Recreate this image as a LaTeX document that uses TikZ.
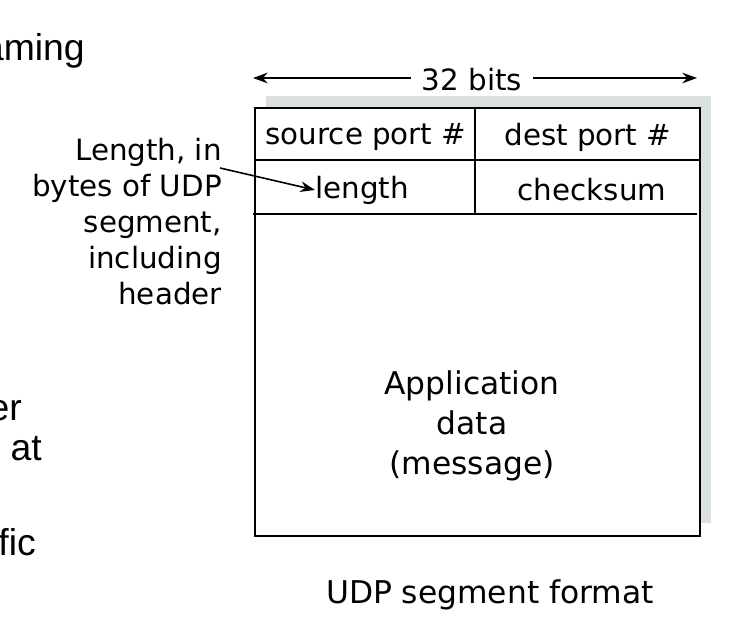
\documentclass[tikz,border=0pt]{standalone}
\usepackage{fontspec}
\setmainfont{DejaVu Sans}
\newfontfamily\slidefont{Liberation Sans}
\usetikzlibrary{arrows.meta}
\definecolor{shadowgray}{RGB}{218,224,224}
\tikzset{
  cell/.style={font=\fontsize{22}{27}\selectfont, inner sep=0pt},
  slide/.style={font=\slidefont\fontsize{28}{33}\selectfont, inner sep=0pt, anchor=base east},
  rule/.style={line width=1.6pt},
  pointer/.style={line width=1.2pt, -{Stealth[length=11pt,width=8pt]}}
}
\begin{document}
\begin{tikzpicture}[x=0.75pt,y=-0.75pt]
\useasboundingbox (0,0) rectangle (736,632);
\clip (0,0) rectangle (736,632);
% slide text cut off at the left
\node[slide] (s1) at (85,60) {aming};
\node[slide] (s2) at (22,420) {er};
\node[slide] (s3) at (42,460) {at};
\node[slide] (s4) at (36,555) {fic};
% width arrow
\node[cell] (bits) at (472,80) {32 bits};
\coordinate (wl) at (253,78);
\coordinate (wr) at (697,78);
\draw[pointer] (bits.west |- wl) ++(-8pt,0) -- (wl);
\draw[pointer] (bits.east |- wr) ++(8pt,0) -- (wr);
% segment box
\fill[shadowgray] (266,96) rectangle (711,523);
\draw[rule,fill=white] (255,108) rectangle (700,536);
\draw[rule] (255,160) -- (700,160);
\draw[rule] (253,214) -- (697,214);
\draw[rule] (475,108) -- (475,214);
\node[cell] (src) at (366,137) {source port \#};
\node[cell] (dst) at (588,137) {dest port \#};
\node[cell] (len) at (362,190) {length};
\node[cell] (chk) at (592,190) {checksum};
\node[cell, align=center, font=\fontsize{23.5}{30}\selectfont] (data) at (472,426) {Application\\data\\(message)};
\node[cell, font=\fontsize{23.5}{28}\selectfont] (caption) at (490,595) {UDP segment format};
% annotation
\node[cell, align=right, anchor=north east] (note) at (222,138) {Length, in\\bytes of UDP\\segment,\\including\\header};
\coordinate (from) at (220,168);
\draw[pointer] (from) -- (len.west);
\end{tikzpicture}
\end{document}
